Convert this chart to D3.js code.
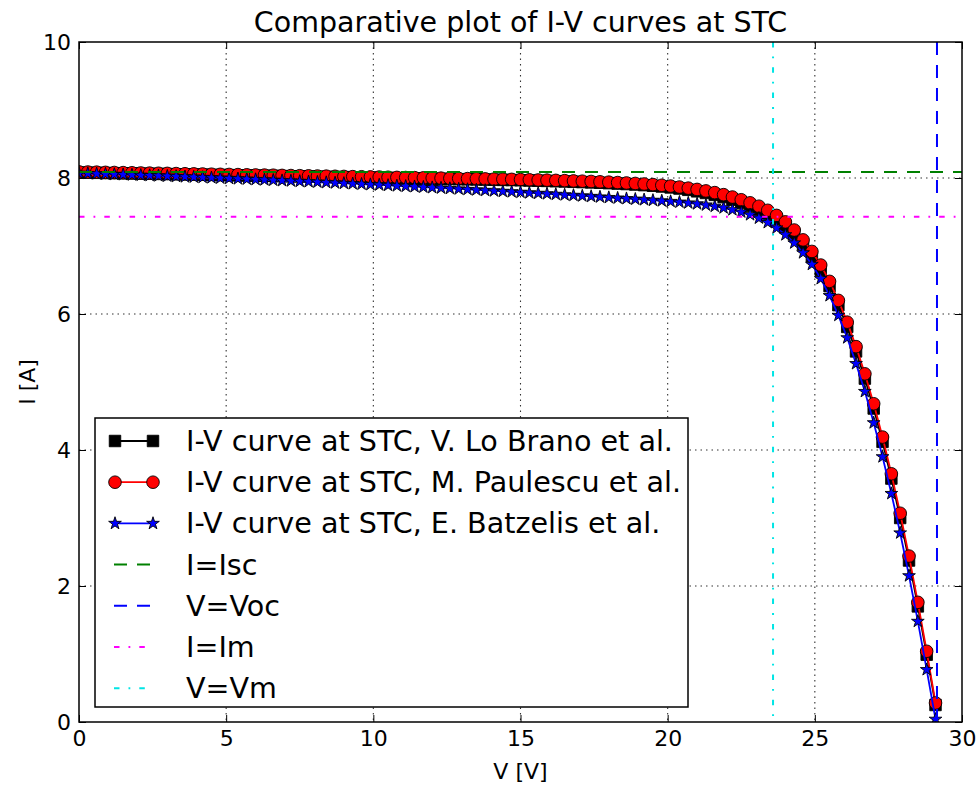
<!DOCTYPE html>
<html>
<head>
<meta charset="utf-8">
<script src="https://cdn.jsdelivr.net/npm/d3@7"></script>
<style>
  body { margin: 0; background: #fff; }
  svg { font-family: "DejaVu Sans", sans-serif; }
</style>
</head>
<body>
<svg id="chart" width="978" height="786"></svg>
<script>
// voltage grid [V], shared by the three models
var voltage = [0.0,0.3,0.6,0.9,1.2,1.5,1.8,2.1,2.4,2.7,
  3.0,3.3,3.6,3.9,4.2,4.5,4.8,5.1,5.4,5.7,
  6.0,6.3,6.6,6.9,7.2,7.5,7.8,8.1,8.4,8.7,
  9.0,9.3,9.6,9.9,10.2,10.5,10.8,11.1,11.4,11.7,
  12.0,12.3,12.6,12.9,13.2,13.5,13.8,14.1,14.4,14.7,
  15.0,15.3,15.6,15.9,16.2,16.5,16.8,17.1,17.4,17.7,
  18.0,18.3,18.6,18.9,19.2,19.5,19.8,20.1,20.4,20.7,
  21.0,21.3,21.6,21.9,22.2,22.5,22.8,23.1,23.4,23.7,
  24.0,24.3,24.6,24.9,25.2,25.5,25.8,26.1,26.4,26.7,
  27.0,27.3,27.6,27.9,28.2,28.5,28.8,29.1];

// currents [A]
var loBrano = [8.080,8.078,8.076,8.073,8.071,8.069,8.067,8.064,8.062,8.060,
  8.058,8.055,8.053,8.051,8.049,8.046,8.044,8.042,8.040,8.037,
  8.035,8.033,8.031,8.028,8.026,8.024,8.022,8.019,8.017,8.015,
  8.013,8.010,8.008,8.006,8.004,8.001,7.999,7.997,7.995,7.992,
  7.990,7.988,7.986,7.983,7.981,7.979,7.977,7.974,7.972,7.970,
  7.967,7.963,7.960,7.957,7.953,7.949,7.944,7.940,7.935,7.930,
  7.924,7.918,7.911,7.904,7.895,7.886,7.875,7.861,7.845,7.826,
  7.804,7.780,7.752,7.719,7.680,7.637,7.589,7.535,7.472,7.394,
  7.295,7.172,7.024,6.850,6.650,6.410,6.130,5.810,5.450,5.050,
  4.610,4.120,3.580,3.000,2.375,1.700,0.990,0.250];

var paulescu = [8.090,8.088,8.086,8.083,8.081,8.079,8.077,8.074,8.072,8.070,
  8.068,8.065,8.063,8.061,8.059,8.056,8.054,8.052,8.050,8.047,
  8.045,8.043,8.041,8.038,8.036,8.034,8.032,8.029,8.027,8.025,
  8.023,8.020,8.018,8.016,8.014,8.011,8.009,8.007,8.005,8.002,
  8.000,7.998,7.996,7.993,7.991,7.989,7.987,7.984,7.982,7.980,
  7.977,7.974,7.971,7.968,7.965,7.961,7.957,7.953,7.949,7.944,
  7.939,7.933,7.927,7.920,7.912,7.903,7.893,7.881,7.867,7.851,
  7.832,7.810,7.785,7.755,7.720,7.680,7.635,7.585,7.525,7.450,
  7.355,7.235,7.090,6.920,6.720,6.480,6.200,5.880,5.520,5.120,
  4.680,4.190,3.650,3.070,2.440,1.760,1.040,0.280];

var batzelis = [8.070,8.066,8.062,8.058,8.054,8.050,8.045,8.041,8.037,8.032,
  8.028,8.023,8.018,8.014,8.009,8.004,7.999,7.994,7.989,7.984,
  7.978,7.973,7.968,7.962,7.957,7.951,7.946,7.940,7.934,7.928,
  7.922,7.916,7.910,7.904,7.898,7.892,7.885,7.879,7.873,7.866,
  7.859,7.853,7.846,7.839,7.832,7.825,7.818,7.811,7.804,7.797,
  7.790,7.782,7.775,7.768,7.760,7.752,7.745,7.737,7.729,7.721,
  7.713,7.705,7.697,7.689,7.681,7.672,7.664,7.655,7.645,7.633,
  7.620,7.603,7.584,7.561,7.533,7.500,7.460,7.410,7.345,7.265,
  7.165,7.045,6.900,6.730,6.520,6.270,5.980,5.650,5.270,4.860,
  4.400,3.900,3.360,2.780,2.150,1.480,0.770,0.040];

// STC reference values
var Isc = 8.09, Voc = 29.15, Im = 7.43, Vm = 23.58;

var xTicks = [0, 5, 10, 15, 20, 25, 30];
var yTicks = [0, 2, 4, 6, 8, 10];

var legendLabels = ["I-V curve at STC, V. Lo Brano et al.",
  "I-V curve at STC, M. Paulescu et al.",
  "I-V curve at STC, E. Batzelis et al.",
  "I=Isc", "V=Voc", "I=Im", "V=Vm"];

var plotL = 79, plotR = 962, plotT = 42, plotB = 722;
var svg = d3.select('#chart');

var x = d3.scaleLinear().domain([0, 30]).range([plotL, plotR]);
var y = d3.scaleLinear().domain([0, 10]).range([plotB, plotT]);

svg.append('rect').attr('x', 0).attr('y', 0).attr('width', 978).attr('height', 786).attr('fill', '#fff');

svg.append('defs').append('clipPath').attr('id', 'plotClip')
  .append('rect').attr('x', plotL).attr('y', plotT)
  .attr('width', plotR - plotL).attr('height', plotB - plotT);

// grid
var grid = svg.append('g').attr('class', 'grid');
grid.selectAll('line.gx').data(xTicks.slice(1, -1)).enter().append('line')
  .attr('x1', d => x(d)).attr('x2', d => x(d))
  .attr('y1', plotT).attr('y2', plotB)
  .attr('stroke', '#333').attr('stroke-width', 1.1).attr('stroke-dasharray', '1.5,4');
grid.selectAll('line.gy').data(yTicks.slice(1, -1)).enter().append('line')
  .attr('y1', d => y(d)).attr('y2', d => y(d))
  .attr('x1', plotL).attr('x2', plotR)
  .attr('stroke', '#333').attr('stroke-width', 1.1).attr('stroke-dasharray', '1.5,4');

var plot = svg.append('g').attr('clip-path', 'url(#plotClip)');

var mk = {
  square: { symbol: d3.symbolSquare, size: 132 },
  circle: { symbol: d3.symbolCircle, size: 125 },
  star: { symbol: d3.symbolStar, size: 50 }
};

var series = [
  { values: loBrano, color: '#000000', mark: mk.square },
  { values: paulescu, color: '#ff0000', mark: mk.circle },
  { values: batzelis, color: '#0000ff', mark: mk.star }
];

var line = d3.line().x((d, i) => x(voltage[i])).y(d => y(d));

series.forEach(function (s) {
  plot.append('path')
    .attr('d', line(s.values))
    .attr('fill', 'none')
    .attr('stroke', s.color)
    .attr('stroke-width', 1.8);
  plot.selectAll(null).data(s.values).enter().append('path')
    .attr('d', d3.symbol().type(s.mark.symbol).size(s.mark.size))
    .attr('transform', (d, i) => 'translate(' + x(voltage[i]) + ',' + y(d) + ')')
    .attr('fill', s.color)
    .attr('stroke', '#000')
    .attr('stroke-width', 0.9);
});

// reference lines
var dash = '13,10', dashDot = '5.5,9,1.8,9';
plot.append('line').attr('x1', plotL).attr('x2', plotR).attr('y1', y(Isc)).attr('y2', y(Isc))
  .attr('stroke', '#008000').attr('stroke-width', 2).attr('stroke-dasharray', dash);
plot.append('line').attr('x1', x(Voc)).attr('x2', x(Voc)).attr('y1', plotT).attr('y2', plotB)
  .attr('stroke', '#0000ff').attr('stroke-width', 2).attr('stroke-dasharray', dash);
plot.append('line').attr('x1', plotL).attr('x2', plotR).attr('y1', y(Im)).attr('y2', y(Im))
  .attr('stroke', '#ff00ff').attr('stroke-width', 2).attr('stroke-dasharray', dashDot);
plot.append('line').attr('x1', x(Vm)).attr('x2', x(Vm)).attr('y1', plotT).attr('y2', plotB)
  .attr('stroke', '#00e5e5').attr('stroke-width', 2).attr('stroke-dasharray', dashDot);

// axes with inside ticks on all sides
function styleAxis(g) {
  g.select('.domain').remove();
  g.selectAll('.tick line').attr('stroke', '#000').attr('stroke-width', 1);
  g.selectAll('.tick text').attr('fill', '#000').style('font-size', '22px')
    .style('font-family', '"DejaVu Sans", sans-serif');
}

svg.append('g').attr('transform', 'translate(0,' + plotB + ')')
  .call(d3.axisBottom(x).tickValues(xTicks).tickSize(-7).tickPadding(8).tickSizeOuter(0))
  .call(styleAxis);
svg.append('g').attr('transform', 'translate(0,' + plotT + ')')
  .call(d3.axisTop(x).tickValues(xTicks).tickSize(-7).tickFormat('').tickSizeOuter(0))
  .call(styleAxis);
svg.append('g').attr('transform', 'translate(' + plotL + ',0)')
  .call(d3.axisLeft(y).tickValues(yTicks).tickSize(-7).tickPadding(8).tickSizeOuter(0))
  .call(styleAxis);
svg.append('g').attr('transform', 'translate(' + plotR + ',0)')
  .call(d3.axisRight(y).tickValues(yTicks).tickSize(-7).tickFormat('').tickSizeOuter(0))
  .call(styleAxis);

svg.append('rect').attr('x', plotL).attr('y', plotT)
  .attr('width', plotR - plotL).attr('height', plotB - plotT)
  .attr('fill', 'none').attr('stroke', '#000').attr('stroke-width', 1.5);

// titles
svg.append('text').attr('x', (plotL + plotR) / 2).attr('y', 32)
  .attr('text-anchor', 'middle').style('font-size', '28.5px')
  .text('Comparative plot of I-V curves at STC');
svg.append('text').attr('x', (plotL + plotR) / 2).attr('y', 779)
  .attr('text-anchor', 'middle').style('font-size', '22px')
  .text('V [V]');
svg.append('text').attr('transform', 'translate(35,' + (plotT + plotB) / 2 + ') rotate(-90)')
  .attr('text-anchor', 'middle').style('font-size', '22px')
  .text('I [A]');

// legend
var lg = svg.append('g');
lg.append('rect').attr('x', 95).attr('y', 418).attr('width', 593).attr('height', 289)
  .attr('fill', '#fff').attr('stroke', '#000').attr('stroke-width', 1.5);

var rowY = d3.range(legendLabels.length).map(i => 441 + i * 41.2);
var handles = [
  { color: '#000000', mark: mk.square },
  { color: '#ff0000', mark: mk.circle },
  { color: '#0000ff', mark: mk.star },
  { color: '#008000', dash: dash },
  { color: '#0000ff', dash: dash },
  { color: '#ff00ff', dash: dashDot },
  { color: '#00e5e5', dash: dashDot }
];

legendLabels.forEach(function (label, i) {
  var h = handles[i], yy = rowY[i];
  var seg = lg.append('line').attr('x1', 114).attr('x2', 153).attr('y1', yy).attr('y2', yy)
    .attr('stroke', h.color).attr('stroke-width', h.dash ? 2 : 1.8);
  if (h.dash) seg.attr('stroke-dasharray', h.dash);
  if (h.mark) {
    [115, 153].forEach(function (px) {
      lg.append('path').attr('d', d3.symbol().type(h.mark.symbol).size(h.mark.size))
        .attr('transform', 'translate(' + px + ',' + yy + ')')
        .attr('fill', h.color).attr('stroke', '#000').attr('stroke-width', 0.9);
    });
  }
  lg.append('text').attr('x', 186).attr('y', yy + 10)
    .style('font-size', '28.6px').text(label);
});
</script>
</body>
</html>
